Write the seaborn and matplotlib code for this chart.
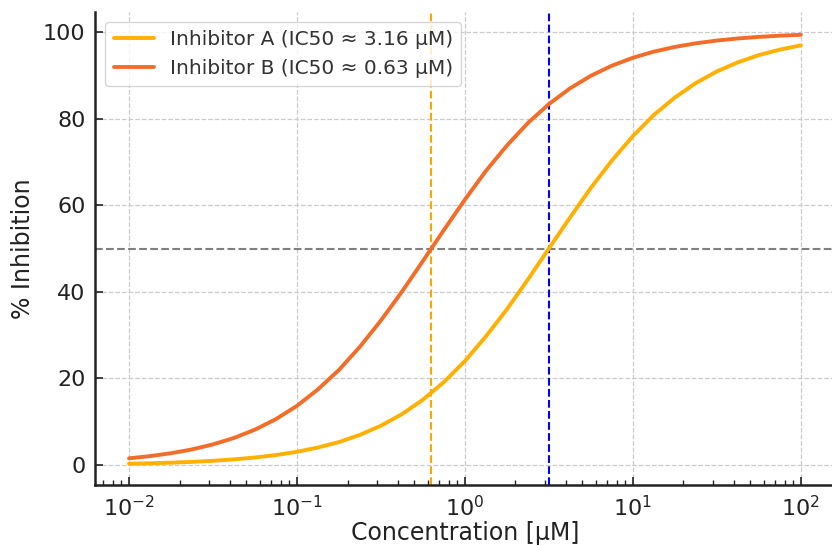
import matplotlib
matplotlib.use("Agg")
import matplotlib.pyplot as plt
import seaborn as sns
import pandas as pd

# Concentrations (µM) read along the x axis
concentration = [0.01, 0.0133, 0.0178, 0.0237, 0.0316, 0.0422, 0.0562, 0.075,
                 0.1, 0.133, 0.178, 0.237, 0.316, 0.422, 0.562, 0.75,
                 1.0, 1.33, 1.78, 2.37, 3.16, 4.22, 5.62, 7.5,
                 10.0, 13.3, 17.8, 23.7, 31.6, 42.2, 56.2, 75.0, 100.0]

inhib_a = [0.32, 0.42, 0.56, 0.74, 0.99, 1.32, 1.75, 2.32,
           3.07, 4.05, 5.32, 6.98, 9.09, 11.77, 15.10, 19.17,
           24.03, 29.66, 35.99, 42.85, 50.0, 57.15, 64.01, 70.34,
           75.97, 80.83, 84.90, 88.23, 90.91, 93.02, 94.68, 95.95, 96.94]

inhib_b = [1.56, 2.07, 2.74, 3.62, 4.77, 6.27, 8.18, 10.62,
           13.68, 17.45, 21.99, 27.32, 33.39, 40.06, 47.13, 54.31,
           61.31, 67.88, 73.81, 78.99, 83.37, 86.99, 89.91, 92.24,
           94.07, 95.48, 96.57, 97.41, 98.04, 98.53, 98.89, 99.17, 99.37]

series_labels = ["Inhibitor A (IC50 ≈ 3.16 µM)", "Inhibitor B (IC50 ≈ 0.63 µM)"]
ic50_a = 3.16
ic50_b = 0.63
half_level = 50

df = pd.DataFrame({
    "conc": concentration * 2,
    "inh": inhib_a + inhib_b,
    "series": [series_labels[0]] * len(inhib_a) + [series_labels[1]] * len(inhib_b),
})

sns.set_theme(style="ticks")
plt.rcParams["font.family"] = ["DejaVu Sans"]
plt.rcParams["xtick.direction"] = "in"
plt.rcParams["ytick.direction"] = "in"

fig = plt.figure(figsize=(8.32, 5.46), dpi=100)
ax = fig.add_axes([95.4 / 832, 0.1117, 739 / 832, 0.866])

palette = {series_labels[0]: "#FFB000", series_labels[1]: "#F36C28"}
sns.lineplot(data=df, x="conc", y="inh", hue="series", palette=palette,
             linewidth=2.8, ax=ax, zorder=3)
ax.set_xscale("log")

ax.axhline(half_level, color="grey", linestyle="--", linewidth=1.5, zorder=2)
ax.axvline(ic50_b, color="#FFA500", linestyle="--", linewidth=1.5, zorder=2)
ax.axvline(ic50_a, color="blue", linestyle="--", linewidth=1.5, zorder=2)

ax.grid(True, which="major", linestyle="--", color="#cccccc", linewidth=0.9)
ax.set_xlim(10 ** -2.2, 10 ** 2.2)
ax.set_ylim(-4.6, 104.6)
ax.set_yticks([0, 20, 40, 60, 80, 100])

for s in ["top", "right"]:
    ax.spines[s].set_visible(False)
for s in ["left", "bottom"]:
    ax.spines[s].set_linewidth(1.8)
    ax.spines[s].set_color("#222222")

ax.tick_params(axis="both", which="major", labelsize=16, length=6, width=1.2,
               colors="#222222", pad=7)
ax.tick_params(axis="x", which="minor", length=3.5, width=1.0, colors="#222222")

ax.set_xlabel("Concentration [µM]", fontsize=17, color="#222222", labelpad=1)
ax.set_ylabel("% Inhibition", fontsize=17, color="#222222", labelpad=6)

leg = ax.legend(loc="upper left", fontsize=14.5, frameon=True, title=None,
                handlelength=2.0, borderpad=0.4, labelspacing=0.5)
leg.get_frame().set_edgecolor("#cccccc")
leg.get_frame().set_linewidth(1.0)
for t in leg.get_texts():
    t.set_color("#333333")

fig.savefig("out.png", dpi=100)
